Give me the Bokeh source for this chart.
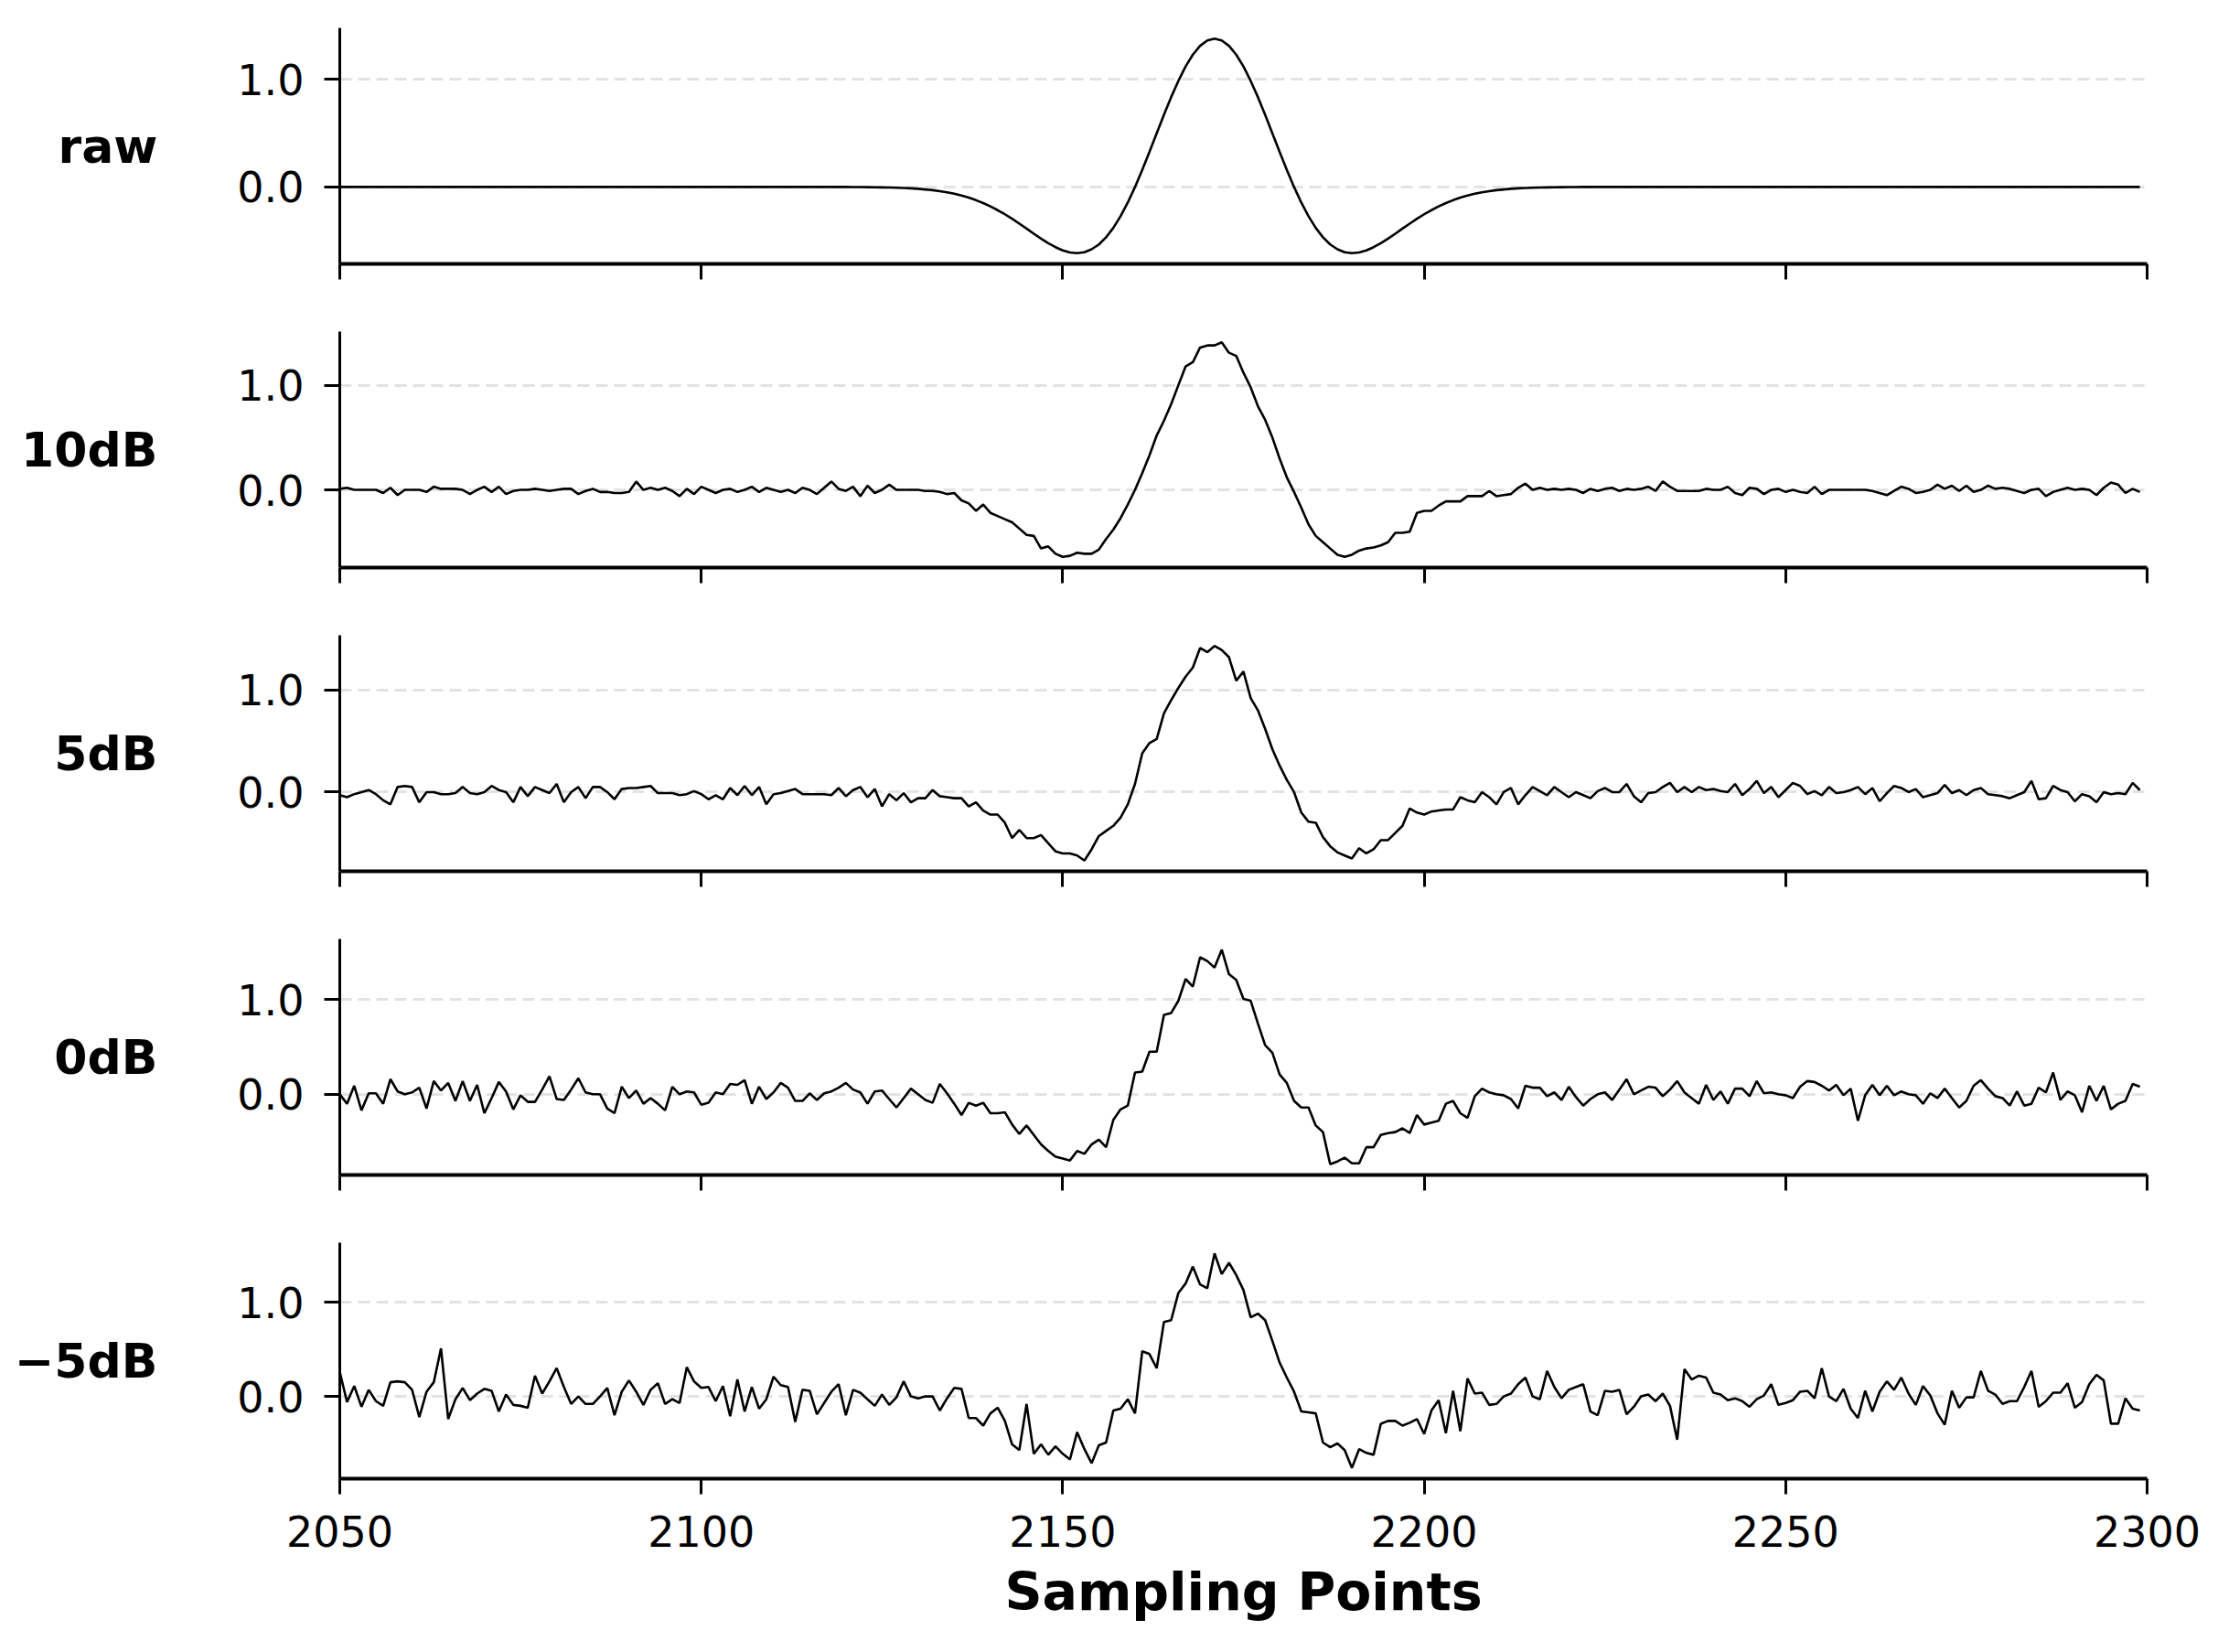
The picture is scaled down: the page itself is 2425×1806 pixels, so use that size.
from bokeh.plotting import figure
from bokeh.models import Range1d, FixedTicker, NumeralTickFormatter, ColumnDataSource
from bokeh.layouts import column
from bokeh.embed import file_html
from bokeh.resources import INLINE

# ---------------- data ----------------
samples = list(range(2050, 2300))

raw = [
    0.0, 0.0, 0.0, 0.0, 0.0, 0.0, 0.0, 0.0, 0.0, 0.0,
    0.0, 0.0, 0.0, 0.0, 0.0, 0.0, 0.0, 0.0, 0.0, 0.0,
    0.0, 0.0, 0.0, 0.0, 0.0, 0.0, 0.0, 0.0, 0.0, 0.0,
    0.0, 0.0, 0.0, 0.0, 0.0, 0.0, 0.0, 0.0, 0.0, 0.0,
    0.0, 0.0, 0.0, 0.0, 0.0, 0.0, 0.0, 0.0, 0.0, 0.0,
    0.0, 0.0, 0.0, 0.0, 0.0, 0.0, 0.0, 0.0, 0.0, 0.0,
    0.0, 0.0, 0.0, 0.0, 0.0, 0.0, 0.0, 0.0, 0.0, 0.0,
    0.0, -0.001, -0.001, -0.002, -0.003, -0.004, -0.005, -0.007, -0.010, -0.013,
    -0.017, -0.023, -0.030, -0.039, -0.050, -0.063, -0.080, -0.099, -0.123, -0.150,
    -0.181, -0.216, -0.254, -0.296, -0.341, -0.387, -0.435, -0.481, -0.523, -0.560,
    -0.590, -0.609, -0.616, -0.607, -0.580, -0.535, -0.468, -0.381, -0.272, -0.145,
    0.0, 0.159, 0.327, 0.499, 0.671, 0.836, 0.987, 1.121, 1.231, 1.313,
    1.363, 1.380, 1.363, 1.313, 1.231, 1.121, 0.987, 0.836, 0.671, 0.499,
    0.327, 0.159, 0.0, -0.145, -0.272, -0.381, -0.468, -0.535, -0.580, -0.607,
    -0.616, -0.609, -0.590, -0.560, -0.523, -0.481, -0.435, -0.387, -0.341, -0.296,
    -0.254, -0.216, -0.181, -0.150, -0.123, -0.099, -0.080, -0.063, -0.050, -0.039,
    -0.030, -0.023, -0.017, -0.013, -0.010, -0.007, -0.005, -0.004, -0.003, -0.002,
    -0.001, -0.001, 0.0, 0.0, 0.0, 0.0, 0.0, 0.0, 0.0, 0.0,
    0.0, 0.0, 0.0, 0.0, 0.0, 0.0, 0.0, 0.0, 0.0, 0.0,
    0.0, 0.0, 0.0, 0.0, 0.0, 0.0, 0.0, 0.0, 0.0, 0.0,
    0.0, 0.0, 0.0, 0.0, 0.0, 0.0, 0.0, 0.0, 0.0, 0.0,
    0.0, 0.0, 0.0, 0.0, 0.0, 0.0, 0.0, 0.0, 0.0, 0.0,
    0.0, 0.0, 0.0, 0.0, 0.0, 0.0, 0.0, 0.0, 0.0, 0.0,
    0.0, 0.0, 0.0, 0.0, 0.0, 0.0, 0.0, 0.0, 0.0, 0.0,
    0.0, 0.0, 0.0, 0.0, 0.0, 0.0, 0.0, 0.0, 0.0, 0.0,
]

db10 = [
    0.01, 0.02, 0.0, 0.0, 0.0, 0.0, -0.03, 0.02, -0.05, 0.0,
    0.0, 0.0, -0.02, 0.03, 0.01, 0.01, 0.01, 0.0, -0.04, 0.0,
    0.03, -0.02, 0.03, -0.04, -0.01, 0.0, 0.0, 0.01, 0.0, -0.01,
    0.0, 0.01, 0.01, -0.04, -0.01, 0.01, -0.02, -0.02, -0.03, -0.03,
    -0.02, 0.08, 0.0, 0.02, 0.0, 0.02, -0.01, -0.06, 0.01, -0.04,
    0.03, 0.0, -0.03, 0.0, 0.01, -0.02, 0.0, 0.03, -0.02, 0.02,
    0.0, -0.02, 0.0, -0.03, 0.02, 0.0, -0.04, 0.02, 0.08, 0.01,
    -0.01, 0.03, -0.06, 0.04, -0.03, 0.0, 0.05, 0.0, 0.0, 0.0,
    0.0, -0.01, -0.01, -0.02, -0.04, -0.03, -0.10, -0.13, -0.20, -0.14,
    -0.22, -0.25, -0.28, -0.31, -0.37, -0.43, -0.44, -0.56, -0.54, -0.61,
    -0.64, -0.63, -0.60, -0.61, -0.61, -0.57, -0.47, -0.38, -0.27, -0.14,
    0.0, 0.16, 0.33, 0.52, 0.66, 0.82, 1.0, 1.18, 1.22, 1.36,
    1.38, 1.38, 1.41, 1.31, 1.28, 1.12, 0.98, 0.80, 0.67, 0.50,
    0.30, 0.12, -0.02, -0.17, -0.33, -0.44, -0.50, -0.56, -0.62, -0.64,
    -0.62, -0.58, -0.56, -0.55, -0.53, -0.50, -0.41, -0.41, -0.40, -0.22,
    -0.20, -0.20, -0.15, -0.11, -0.11, -0.11, -0.06, -0.06, -0.06, -0.01,
    -0.06, -0.05, -0.04, 0.02, 0.06, 0.0, 0.02, 0.0, 0.01, 0.0,
    0.01, 0.0, -0.03, 0.01, -0.01, 0.01, 0.02, -0.01, 0.01, 0.0,
    0.01, 0.03, -0.01, 0.08, 0.03, -0.01, -0.01, -0.01, -0.01, 0.01,
    0.0, 0.0, 0.03, -0.03, -0.05, 0.02, 0.01, -0.04, 0.0, 0.01,
    -0.02, 0.0, -0.02, -0.03, 0.03, -0.04, 0.0, 0.0, 0.0, 0.0,
    0.0, 0.0, -0.01, -0.03, -0.05, -0.01, 0.03, 0.01, -0.03, -0.02,
    0.0, 0.05, 0.01, 0.04, -0.01, 0.04, -0.02, 0.0, 0.04, 0.01,
    0.02, 0.01, -0.01, -0.03, 0.0, 0.01, -0.06, -0.02, 0.0, 0.02,
    0.0, 0.01, 0.0, -0.05, 0.02, 0.07, 0.05, -0.03, 0.01, -0.02,
]

db5 = [
    -0.03, -0.05, -0.02, 0.0, 0.02, -0.02, -0.08, -0.12, 0.05, 0.06,
    0.05, -0.10, 0.0, 0.0, -0.02, -0.02, -0.01, 0.05, -0.01, -0.02,
    0.0, 0.06, 0.02, 0.0, -0.10, 0.05, -0.04, 0.05, 0.02, -0.01,
    0.08, -0.10, 0.0, 0.05, -0.06, 0.05, 0.05, 0.0, -0.07, 0.03,
    0.04, 0.04, 0.05, 0.06, -0.01, -0.01, -0.01, -0.03, -0.02, 0.01,
    -0.02, -0.07, -0.03, -0.07, 0.04, -0.03, 0.06, -0.03, 0.05, -0.12,
    -0.02, -0.01, 0.01, 0.03, -0.02, -0.02, -0.02, -0.02, -0.03, 0.04,
    -0.04, 0.02, 0.05, -0.05, 0.03, -0.14, -0.02, -0.08, -0.01, -0.10,
    -0.06, -0.06, 0.02, -0.04, -0.05, -0.06, -0.06, -0.14, -0.10, -0.18,
    -0.22, -0.22, -0.30, -0.45, -0.37, -0.45, -0.45, -0.42, -0.50, -0.58,
    -0.60, -0.60, -0.62, -0.67, -0.56, -0.43, -0.38, -0.33, -0.25, -0.12,
    0.08, 0.38, 0.48, 0.52, 0.77, 0.90, 1.02, 1.13, 1.22, 1.41,
    1.37, 1.43, 1.39, 1.32, 1.09, 1.18, 0.92, 0.80, 0.62, 0.42,
    0.26, 0.12, 0.0, -0.20, -0.29, -0.30, -0.44, -0.53, -0.59, -0.62,
    -0.65, -0.55, -0.60, -0.56, -0.47, -0.47, -0.40, -0.33, -0.16, -0.20,
    -0.22, -0.19, -0.18, -0.17, -0.17, -0.05, -0.08, -0.10, 0.0, -0.05,
    -0.12, 0.0, 0.04, -0.12, -0.03, 0.05, 0.01, -0.03, 0.05, 0.0,
    -0.05, 0.0, -0.03, -0.06, 0.01, 0.04, 0.0, 0.0, 0.08, -0.04,
    -0.10, -0.01, 0.0, 0.05, 0.09, 0.0, 0.05, 0.0, 0.05, 0.02,
    0.03, 0.01, 0.0, 0.08, -0.03, 0.03, 0.11, -0.01, 0.05, -0.05,
    0.02, 0.09, 0.06, -0.02, 0.01, -0.03, 0.05, -0.01, 0.0, 0.02,
    0.05, -0.02, 0.04, -0.09, -0.01, 0.06, 0.04, 0.0, 0.03, -0.05,
    -0.03, -0.01, 0.07, -0.01, 0.02, -0.03, 0.02, 0.04, -0.02, -0.03,
    -0.04, -0.06, -0.03, 0.0, 0.11, -0.07, -0.06, 0.06, 0.02, 0.0,
    -0.09, -0.02, -0.04, -0.10, 0.0, -0.02, -0.01, -0.02, 0.09, 0.02,
]

db0 = [
    0.0, -0.10, 0.09, -0.17, 0.01, 0.01, -0.10, 0.16, 0.03, 0.0,
    0.02, 0.07, -0.15, 0.14, 0.04, 0.12, -0.07, 0.14, -0.07, 0.10,
    -0.20, -0.04, 0.13, 0.03, -0.16, -0.01, -0.08, -0.08, 0.05, 0.19,
    -0.05, -0.06, 0.05, 0.17, 0.02, 0.0, 0.0, -0.15, -0.20, 0.08,
    -0.04, 0.04, -0.10, -0.04, -0.10, -0.17, 0.08, 0.0, 0.03, 0.02,
    -0.11, -0.09, 0.02, 0.0, 0.11, 0.10, 0.15, -0.10, 0.08, -0.05,
    0.02, 0.12, 0.07, -0.07, -0.07, 0.01, -0.06, 0.01, 0.03, 0.07,
    0.12, 0.05, 0.02, -0.10, 0.03, 0.04, -0.05, -0.14, -0.04, 0.06,
    0.0, -0.06, -0.09, 0.11, 0.01, -0.10, -0.22, -0.09, -0.12, -0.09,
    -0.20, -0.20, -0.19, -0.32, -0.42, -0.33, -0.43, -0.53, -0.60, -0.66,
    -0.68, -0.70, -0.60, -0.63, -0.53, -0.48, -0.56, -0.27, -0.16, -0.12,
    0.23, 0.24, 0.45, 0.45, 0.84, 0.86, 0.99, 1.22, 1.14, 1.45,
    1.41, 1.34, 1.53, 1.27, 1.21, 1.01, 0.99, 0.75, 0.52, 0.44,
    0.21, 0.12, -0.07, -0.14, -0.14, -0.33, -0.40, -0.74, -0.71, -0.67,
    -0.73, -0.73, -0.56, -0.56, -0.43, -0.41, -0.40, -0.36, -0.41, -0.22,
    -0.32, -0.30, -0.28, -0.10, -0.07, -0.20, -0.25, -0.02, 0.06, 0.02,
    0.0, -0.01, -0.05, -0.15, 0.09, 0.07, 0.07, -0.02, 0.02, -0.06,
    0.08, -0.03, -0.12, -0.05, 0.0, 0.02, -0.06, 0.05, 0.16, 0.0,
    0.04, 0.08, 0.07, -0.02, 0.05, 0.14, 0.02, -0.04, -0.10, 0.10,
    -0.06, 0.03, -0.10, 0.06, 0.06, -0.02, 0.14, 0.01, 0.02, 0.0,
    -0.01, -0.04, 0.08, 0.14, 0.13, 0.09, 0.04, 0.10, -0.01, 0.06,
    -0.28, -0.01, 0.10, -0.01, 0.09, -0.01, 0.03, 0.0, -0.01, -0.10,
    0.01, -0.04, 0.06, -0.04, -0.14, -0.07, 0.09, 0.15, 0.06, -0.02,
    -0.04, -0.12, 0.03, -0.12, -0.10, 0.07, 0.02, 0.23, -0.06, 0.03,
    -0.01, -0.19, 0.09, -0.07, 0.09, -0.16, -0.10, -0.07, 0.11, 0.08,
]

dbm5 = [
    0.26, -0.06, 0.11, -0.11, 0.07, -0.05, -0.10, 0.15, 0.16, 0.15,
    0.07, -0.22, 0.05, 0.15, 0.51, -0.24, -0.03, 0.09, -0.04, 0.03,
    0.08, 0.06, -0.16, 0.02, -0.09, -0.10, -0.12, 0.22, 0.03, 0.16,
    0.30, 0.10, -0.08, 0.0, -0.08, -0.08, 0.0, 0.09, -0.20, 0.05,
    0.17, 0.05, -0.09, 0.07, 0.14, -0.08, -0.03, -0.07, 0.31, 0.16,
    0.09, 0.10, -0.05, 0.11, -0.21, 0.18, -0.16, 0.10, -0.13, -0.03,
    0.21, 0.12, 0.10, -0.27, 0.07, 0.06, -0.19, -0.07, 0.05, 0.13,
    -0.20, 0.07, 0.04, -0.03, -0.10, 0.02, -0.09, -0.01, 0.16, 0.0,
    -0.02, 0.0, 0.0, -0.15, -0.02, 0.09, 0.08, -0.23, -0.23, -0.31,
    -0.18, -0.12, -0.26, -0.51, -0.57, -0.08, -0.61, -0.51, -0.62, -0.53,
    -0.61, -0.67, -0.38, -0.56, -0.71, -0.52, -0.49, -0.15, -0.13, -0.03,
    -0.18, 0.48, 0.45, 0.30, 0.79, 0.81, 1.10, 1.20, 1.38, 1.19,
    1.15, 1.52, 1.30, 1.42, 1.29, 1.13, 0.84, 0.88, 0.81, 0.59,
    0.36, 0.20, 0.05, -0.16, -0.17, -0.18, -0.49, -0.54, -0.50, -0.57,
    -0.76, -0.56, -0.60, -0.62, -0.29, -0.26, -0.26, -0.31, -0.28, -0.24,
    -0.40, -0.15, -0.04, -0.39, 0.06, -0.37, 0.19, 0.03, 0.04, -0.09,
    -0.08, 0.0, 0.03, 0.13, 0.20, 0.0, -0.03, 0.27, 0.10, -0.02,
    0.07, 0.10, 0.13, -0.16, -0.20, 0.06, 0.05, 0.07, -0.19, -0.11,
    0.0, 0.02, -0.05, 0.03, -0.10, -0.46, 0.29, 0.18, 0.22, 0.20,
    0.04, 0.02, -0.04, -0.02, -0.05, -0.11, -0.03, 0.01, 0.13, -0.09,
    -0.07, -0.04, 0.05, 0.06, -0.02, 0.30, 0.0, -0.05, 0.08, -0.13,
    -0.23, 0.06, -0.16, 0.05, 0.16, 0.07, 0.20, 0.03, -0.09, 0.11,
    0.01, -0.18, -0.30, 0.06, -0.12, -0.01, -0.01, 0.27, 0.06, 0.02,
    -0.08, -0.05, -0.05, 0.10, 0.27, -0.11, -0.05, 0.04, 0.04, 0.14,
    -0.12, -0.06, 0.13, 0.23, 0.17, -0.29, -0.29, -0.02, -0.13, -0.15,
]

series_labels = ["raw", "10dB", "5dB", "0dB", "\u22125dB"]
series_values = [raw, db10, db5, db0, dbm5]
x_ticks = [2050, 2100, 2150, 2200, 2250, 2300]
y_ticks = [0.0, 1.0]
x_label = "Sampling Points"
x_start, x_end = 2050, 2300

# ---------------- styling ----------------
FONT = "DejaVu Sans"
FRAME_W, FRAME_H = 1976, 258
LEFT, RIGHT, TOP = 371, 60, 30
PITCH = 332
GAP_BOTTOM = PITCH - TOP - FRAME_H
LAST_BOTTOM = 174

figs = []
n = len(series_values)
for i, (lab, ys) in enumerate(zip(series_labels, series_values)):
    last = (i == n - 1)
    lo, hi = min(ys), max(ys)
    pad = 0.05 * (hi - lo)
    p = figure(
        frame_width=FRAME_W, frame_height=FRAME_H,
        x_range=Range1d(x_start, x_end), y_range=Range1d(lo - pad, hi + pad),
        output_backend="svg", toolbar_location=None,
        min_border_left=LEFT, min_border_right=RIGHT, min_border_top=TOP,
        min_border_bottom=LAST_BOTTOM if last else GAP_BOTTOM,
        background_fill_color="white", border_fill_color="white",
    )
    p.outline_line_color = None

    src = ColumnDataSource(dict(x=samples, y=ys))
    p.line("x", "y", source=src, line_color="black", line_width=2.6)

    # grid
    p.xgrid.visible = False
    p.ygrid.grid_line_color = "#e3e3e3"
    p.ygrid.grid_line_width = 3
    p.ygrid.grid_line_dash = "13 7"

    # y axis
    ya = p.yaxis[0]
    ya.ticker = FixedTicker(ticks=y_ticks)
    ya.formatter = NumeralTickFormatter(format="0.0")
    ya.axis_line_width = 3
    ya.axis_line_color = "black"
    ya.major_tick_in = 0
    ya.major_tick_out = 17
    ya.major_tick_line_width = 3
    ya.minor_tick_line_color = None
    ya.major_label_standoff = 22
    ya.major_label_text_font = FONT
    ya.major_label_text_font_size = "46px"
    ya.major_label_text_color = "black"
    # row name, written horizontally left of the tick labels
    ya.axis_label = lab
    ya.axis_label_orientation = "horizontal"
    ya.axis_label_standoff = 84
    ya.axis_label_text_font = FONT
    ya.axis_label_text_font_size = "52px"
    ya.axis_label_text_font_style = "bold"
    ya.axis_label_text_color = "black"

    # x axis
    xa = p.xaxis[0]
    xa.ticker = FixedTicker(ticks=x_ticks)
    xa.axis_line_width = 4
    xa.axis_line_color = "black"
    xa.major_tick_in = 0
    xa.major_tick_out = 17
    xa.major_tick_line_width = 3
    xa.minor_tick_line_color = None
    xa.major_label_text_font = FONT
    xa.major_label_text_color = "black"
    if last:
        xa.major_label_text_font_size = "46px"
        xa.major_label_standoff = 23
        xa.axis_label = x_label
        xa.axis_label_text_font = FONT
        xa.axis_label_text_font_size = "57px"
        xa.axis_label_text_font_style = "bold"
        xa.axis_label_text_color = "black"
        xa.axis_label_standoff = 13
    else:
        xa.major_label_text_font_size = "10px"
        xa.major_label_standoff = 2
        xa.major_label_overrides = {t: "" for t in x_ticks}
    figs.append(p)

layout = column(*figs, spacing=0)
open("out.html", "w").write(file_html(layout, INLINE))
